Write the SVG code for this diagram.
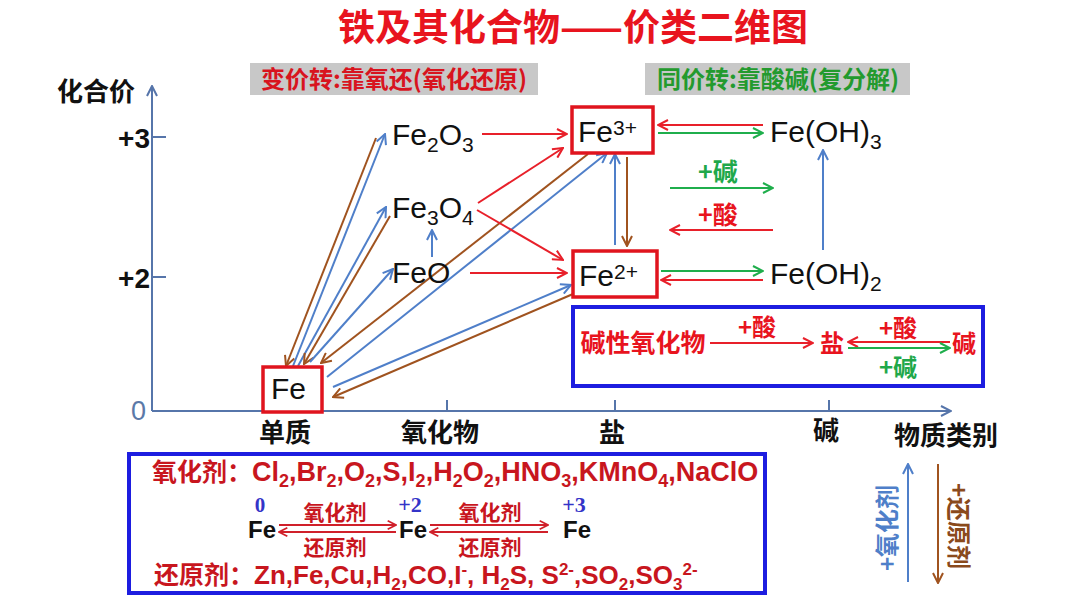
<svg xmlns="http://www.w3.org/2000/svg" width="1080" height="608" viewBox="0 0 1080 608">
<defs>
<style>
.cn{font-family:"Noto Sans CJK SC","Noto Sans",sans-serif;font-weight:700}
.f{font-family:"Liberation Sans",Arial,sans-serif;font-size:30px;fill:#111}
.axis{stroke:#5675aa;stroke-width:2;fill:none}
.cr{stroke:#e8202a;stroke-width:2;fill:none;marker-end:url(#ar)}
.cb{stroke:#4f7fc9;stroke-width:2;fill:none;marker-end:url(#ab)}
.cw{stroke:#a0531f;stroke-width:2;fill:none;marker-end:url(#aw)}
.cg{stroke:#1fae4c;stroke-width:2;fill:none;marker-end:url(#ag)}
.dr{stroke:#d0202a;stroke-width:1.8;fill:none;marker-end:url(#ad)}
.box{fill:#fff;stroke:#e0141e;stroke-width:3.5}
.bbox{fill:none;stroke:#1d1de0;stroke-width:4}
.red{fill:#e8141e}
.dred{fill:#c8161e}
.green{fill:#1fa84a}
.blk{fill:#111}
</style>
<marker id="ar" viewBox="0 0 12 12" refX="11" refY="6" markerWidth="12" markerHeight="12" markerUnits="userSpaceOnUse" orient="auto"><path d="M1,1 L11,6 L1,11" fill="none" stroke="#e8202a" stroke-width="2"/></marker>
<marker id="ab" viewBox="0 0 12 12" refX="11" refY="6" markerWidth="12" markerHeight="12" markerUnits="userSpaceOnUse" orient="auto"><path d="M1,1 L11,6 L1,11" fill="none" stroke="#4f7fc9" stroke-width="2"/></marker>
<marker id="aw" viewBox="0 0 12 12" refX="11" refY="6" markerWidth="12" markerHeight="12" markerUnits="userSpaceOnUse" orient="auto"><path d="M1,1 L11,6 L1,11" fill="none" stroke="#a0531f" stroke-width="2"/></marker>
<marker id="ag" viewBox="0 0 12 12" refX="11" refY="6" markerWidth="12" markerHeight="12" markerUnits="userSpaceOnUse" orient="auto"><path d="M1,1 L11,6 L1,11" fill="none" stroke="#1fae4c" stroke-width="2"/></marker>
<marker id="ad" viewBox="0 0 12 12" refX="11" refY="6" markerWidth="10" markerHeight="10" markerUnits="userSpaceOnUse" orient="auto"><path d="M1,1 L11,6 L1,11" fill="none" stroke="#d0202a" stroke-width="2"/></marker>
<marker id="ax" viewBox="0 0 12 12" refX="11" refY="6" markerWidth="12" markerHeight="12" markerUnits="userSpaceOnUse" orient="auto"><path d="M1,1 L11,6 L1,11" fill="none" stroke="#5675aa" stroke-width="2"/></marker>
</defs>
<rect width="1080" height="608" fill="#fff"/>

<!-- title and headers -->
<g id="title">
<text x="573" y="41" text-anchor="middle" class="cn red" font-size="37">铁及其化合物——价类二维图</text>
</g>
<g id="badge-redox">
<rect x="250" y="63" width="288" height="32" fill="#c8c8c8"/>
<text x="394" y="88" text-anchor="middle" class="cn" font-size="24" fill="#d8141e">变价转:靠氧还(氧化还原)</text>
</g>
<g id="badge-metathesis">
<rect x="645" y="63" width="265" height="32" fill="#c8c8c8"/>
<text x="778" y="88" text-anchor="middle" class="cn" font-size="24" fill="#239a2e">同价转:靠酸碱(复分解)</text>
</g>

<!-- axes -->
<g id="axes">
<line x1="152" y1="411" x2="152" y2="86" class="axis" marker-end="url(#ax)"/>
<line x1="152" y1="411" x2="951" y2="411" class="axis" marker-end="url(#ax)"/>
<line x1="152" y1="137" x2="166" y2="137" class="axis"/>
<line x1="152" y1="277" x2="166" y2="277" class="axis"/>
<line x1="293" y1="411" x2="293" y2="400" class="axis"/>
<line x1="447" y1="411" x2="447" y2="400" class="axis"/>
<line x1="615" y1="411" x2="615" y2="400" class="axis"/>
<line x1="829" y1="411" x2="829" y2="400" class="axis"/>
<text x="96" y="101" text-anchor="middle" class="cn blk" font-size="26">化合价</text>
<text x="150" y="148" text-anchor="end" font-family="Liberation Sans,Arial,sans-serif" font-weight="700" font-size="28" fill="#111">+3</text>
<text x="150" y="288" text-anchor="end" font-family="Liberation Sans,Arial,sans-serif" font-weight="700" font-size="28" fill="#111">+2</text>
<text x="146" y="420" text-anchor="end" font-family="Liberation Sans,Arial,sans-serif" font-size="27" fill="#5b79a8">0</text>
<text x="285" y="442" text-anchor="middle" class="cn blk" font-size="26">单质</text>
<text x="440" y="442" text-anchor="middle" class="cn blk" font-size="26">氧化物</text>
<text x="612" y="442" text-anchor="middle" class="cn blk" font-size="26">盐</text>
<text x="826" y="440" text-anchor="middle" class="cn blk" font-size="26">碱</text>
<text x="946" y="445" text-anchor="middle" class="cn blk" font-size="26">物质类别</text>
</g>

<!-- connectors -->
<g id="connectors">
<line x1="376" y1="138" x2="286" y2="366" class="cw"/>
<line x1="293" y1="366" x2="385" y2="134" class="cb"/>
<line x1="298" y1="366" x2="386" y2="207" class="cb"/>
<line x1="390" y1="216" x2="304" y2="364" class="cw"/>
<line x1="310" y1="362" x2="393" y2="269" class="cb"/>
<line x1="588" y1="154" x2="321" y2="363" class="cw"/>
<line x1="327" y1="377" x2="607" y2="153" class="cb"/>
<line x1="333" y1="387" x2="571" y2="285" class="cb"/>
<line x1="573" y1="294" x2="333" y2="397" class="cw"/>
<line x1="432" y1="257" x2="432" y2="230" class="cb"/>
<line x1="482" y1="134" x2="567" y2="134" class="cr"/>
<line x1="478" y1="203" x2="563" y2="148" class="cr"/>
<line x1="477" y1="210" x2="563" y2="260" class="cr"/>
<line x1="470" y1="273" x2="567" y2="273" class="cr"/>
<line x1="615" y1="245" x2="615" y2="154" class="cb"/>
<line x1="627" y1="157" x2="627" y2="246" class="cw"/>
<line x1="763" y1="125" x2="658" y2="125" class="cr"/>
<line x1="658" y1="133" x2="763" y2="133" class="cg"/>
<line x1="670" y1="188" x2="773" y2="188" class="cg"/>
<line x1="773" y1="230" x2="670" y2="230" class="cr"/>
<line x1="661" y1="271" x2="763" y2="271" class="cg"/>
<line x1="763" y1="280" x2="661" y2="280" class="cr"/>
<line x1="823" y1="250" x2="823" y2="150" class="cb"/>
<text x="718" y="181" text-anchor="middle" class="cn green" font-size="25">+碱</text>
<text x="718" y="224" text-anchor="middle" class="cn red" font-size="25">+酸</text>
</g>

<!-- nodes -->
<g id="node-Fe">
<rect x="263" y="367" width="59" height="45" class="box"/>
<text x="271" y="399" class="f">Fe</text>
</g>
<g id="node-Fe2O3">
<text x="392" y="145" class="f">Fe<tspan dy="7" font-size="21">2</tspan><tspan dy="-7">O</tspan><tspan dy="7" font-size="21">3</tspan></text>
</g>
<g id="node-Fe3O4">
<text x="392" y="218" class="f">Fe<tspan dy="7" font-size="21">3</tspan><tspan dy="-7">O</tspan><tspan dy="7" font-size="21">4</tspan></text>
</g>
<g id="node-FeO">
<text x="392" y="283" class="f">FeO</text>
</g>
<g id="node-Fe3plus">
<rect x="572" y="107" width="81" height="46" class="box"/>
<text x="578" y="142" class="f">Fe<tspan dy="-7" font-size="21">3+</tspan></text>
</g>
<g id="node-Fe2plus">
<rect x="573" y="251" width="84" height="46" class="box"/>
<text x="579" y="286" class="f">Fe<tspan dy="-7" font-size="21">2+</tspan></text>
</g>
<g id="node-FeOH3">
<text x="770" y="142" class="f">Fe(OH)<tspan dy="7" font-size="21">3</tspan></text>
</g>
<g id="node-FeOH2">
<text x="770" y="284" class="f">Fe(OH)<tspan dy="7" font-size="21">2</tspan></text>
</g>

<!-- basic oxide box -->
<g id="node-acidbase-box">
<rect x="573" y="307" width="410" height="79" class="bbox"/>
<text x="643" y="352" text-anchor="middle" class="cn red" font-size="25">碱性氧化物</text>
<line x1="710" y1="343" x2="813" y2="343" class="cr"/>
<text x="757" y="336" text-anchor="middle" class="cn red" font-size="24">+酸</text>
<text x="832" y="352" text-anchor="middle" class="cn red" font-size="24">盐</text>
<line x1="950" y1="342" x2="848" y2="342" class="cr"/>
<line x1="848" y1="348" x2="950" y2="348" class="cg"/>
<text x="898" y="337" text-anchor="middle" class="cn red" font-size="24">+酸</text>
<text x="898" y="376" text-anchor="middle" class="cn green" font-size="24">+碱</text>
<text x="964" y="352" text-anchor="middle" class="cn red" font-size="24">碱</text>
</g>

<!-- redox agents box -->
<g id="node-agents-box">
<rect x="129" y="454" width="636" height="139" class="bbox"/>
<text x="152" y="481" class="cn dred" font-size="25">氧化剂：<tspan font-family="Liberation Sans,Arial,sans-serif" font-size="27">Cl<tspan dy="6" font-size="18">2</tspan><tspan dy="-6">,Br</tspan><tspan dy="6" font-size="18">2</tspan><tspan dy="-6">,O</tspan><tspan dy="6" font-size="18">2</tspan><tspan dy="-6">,S,I</tspan><tspan dy="6" font-size="18">2</tspan><tspan dy="-6">,H</tspan><tspan dy="6" font-size="18">2</tspan><tspan dy="-6">O</tspan><tspan dy="6" font-size="18">2</tspan><tspan dy="-6">,HNO</tspan><tspan dy="6" font-size="18">3</tspan><tspan dy="-6">,KMnO</tspan><tspan dy="6" font-size="18">4</tspan><tspan dy="-6">,NaClO</tspan></tspan></text>
<text x="260" y="512" text-anchor="middle" font-family="Liberation Serif,serif" font-weight="700" font-size="21" fill="#3434c8">0</text>
<text x="410" y="512" text-anchor="middle" font-family="Liberation Serif,serif" font-weight="700" font-size="22" fill="#3434c8">+2</text>
<text x="574" y="512" text-anchor="middle" font-family="Liberation Serif,serif" font-weight="700" font-size="22" fill="#3434c8">+3</text>
<text x="248" y="538" font-family="Liberation Sans,Arial,sans-serif" font-weight="700" font-size="24" fill="#111">Fe</text>
<text x="399" y="538" font-family="Liberation Sans,Arial,sans-serif" font-weight="700" font-size="24" fill="#111">Fe</text>
<text x="563" y="538" font-family="Liberation Sans,Arial,sans-serif" font-weight="700" font-size="24" fill="#111">Fe</text>
<line x1="279" y1="525" x2="396" y2="525" class="dr"/>
<line x1="396" y1="532" x2="279" y2="532" class="dr"/>
<line x1="430" y1="525" x2="548" y2="525" class="dr"/>
<line x1="548" y1="532" x2="430" y2="532" class="dr"/>
<text x="335" y="520" text-anchor="middle" class="cn dred" font-size="21">氧化剂</text>
<text x="335" y="555" text-anchor="middle" class="cn dred" font-size="21">还原剂</text>
<text x="490" y="520" text-anchor="middle" class="cn dred" font-size="21">氧化剂</text>
<text x="490" y="555" text-anchor="middle" class="cn dred" font-size="21">还原剂</text>
<text x="154" y="584" class="cn dred" font-size="25">还原剂：<tspan font-family="Liberation Sans,Arial,sans-serif" font-size="26">Zn,Fe,Cu,H<tspan dy="6" font-size="17">2</tspan><tspan dy="-6">,CO,I</tspan><tspan dy="-9" font-size="17">-</tspan><tspan dy="9">, H</tspan><tspan dy="6" font-size="17">2</tspan><tspan dy="-6">S, S</tspan><tspan dy="-9" font-size="17">2-</tspan><tspan dy="9">,SO</tspan><tspan dy="6" font-size="17">2</tspan><tspan dy="-6">,SO</tspan><tspan dy="6" font-size="17">3</tspan><tspan dy="-15" font-size="17">2-</tspan></tspan></text>
</g>

<!-- legend arrows -->
<g id="legend">
<line x1="908" y1="582" x2="908" y2="464" class="cb"/>
<line x1="938" y1="464" x2="938" y2="583" class="cw"/>
<text transform="translate(888,528) rotate(-90)" x="0" y="8" text-anchor="middle" class="cn" font-size="24" fill="#4f7fc9">+氧化剂</text>
<text transform="translate(958,526) rotate(90)" x="0" y="8" text-anchor="middle" class="cn" font-size="24" fill="#8a4a1c">+还原剂</text>
</g>
</svg>
